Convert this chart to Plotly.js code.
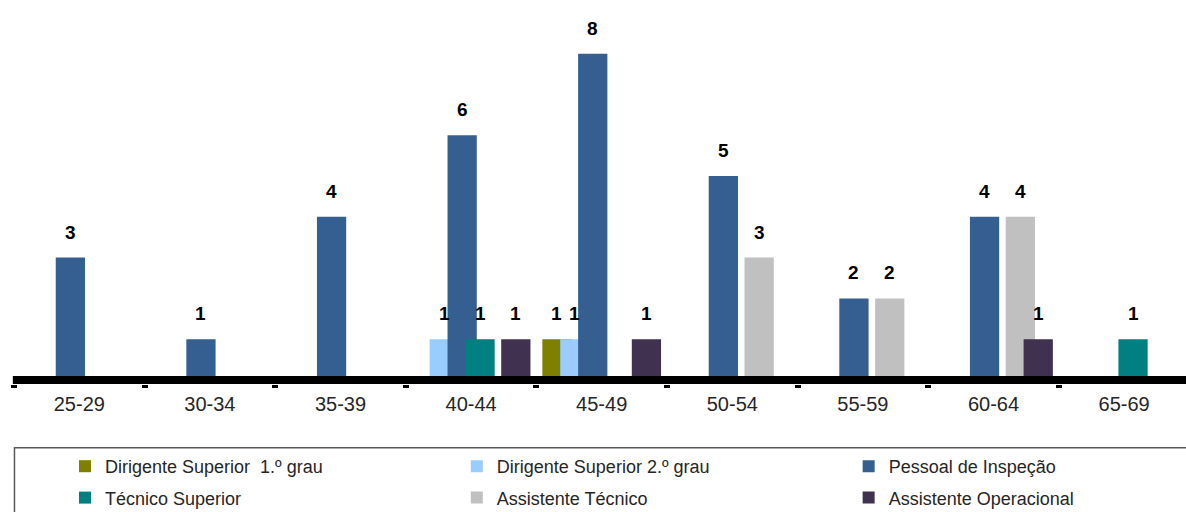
<!DOCTYPE html>
<html>
<head>
<meta charset="utf-8">
<script src="https://cdn.plot.ly/plotly-3.0.1.min.js"></script>
<style>
html,body{margin:0;padding:0;background:#ffffff;}
#chart{width:1186px;height:512px;}
</style>
</head>
<body>
<div id="chart"></div>
<script>
// ---- data ----
const categories = ['25-29', '30-34', '35-39', '40-44', '45-49', '50-54', '55-59', '60-64', '65-69'];
const seriesNames = ['Dirigente Superior\u00a0 1.º grau', 'Dirigente Superior 2.º grau', 'Pessoal de Inspeção',
                     'Técnico Superior', 'Assistente Técnico', 'Assistente Operacional'];
const dirigente1 = [0, 0, 0, 0, 1, 0, 0, 0, 0];
const dirigente2 = [0, 0, 0, 1, 1, 0, 0, 0, 0];
const pessoalInspecao = [3, 1, 4, 6, 8, 5, 2, 4, 0];
const tecnicoSuperior = [0, 0, 0, 1, 0, 0, 0, 0, 1];
const assistenteTecnico = [0, 0, 0, 0, 0, 3, 2, 4, 0];
const assistenteOperacional = [0, 0, 0, 1, 1, 0, 0, 1, 0];

// ---- styling ----
const seriesValues = [dirigente1, dirigente2, pessoalInspecao, tecnicoSuperior, assistenteTecnico, assistenteOperacional];
const colors = ['#808000', '#99CCFF', '#365F91', '#008080', '#C0C0C0', '#403151'];
const legendIds = ['legend', 'legend2', 'legend3', 'legend', 'legend2', 'legend3'];
const FONT = 'Liberation Sans, Arial, sans-serif';
const slotStep = 0.137;   // distance between series slots (category units)
const barWidth = 0.224;   // bars overlap like the original
const slotCenter = k => (k - 2.5) * slotStep;

const traces = seriesValues.map((vals, k) => ({
  type: 'bar',
  name: seriesNames[k],
  x: categories,
  y: vals,
  width: barWidth,
  offset: slotCenter(k) - barWidth / 2,
  marker: {color: colors[k], line: {width: 0}},
  legend: legendIds[k],
  legendgroup: 'g' + k,
  hoverinfo: 'skip'
}));

const annotations = [];
seriesValues.forEach((vals, k) => {
  vals.forEach((v, i) => {
    if (v > 0) {
      annotations.push({
        x: i + slotCenter(k), y: v, xref: 'x', yref: 'y',
        text: String(v), showarrow: false, yanchor: 'bottom', yshift: 13,
        font: {family: FONT, size: 19, color: '#000000', weight: 700}
      });
    }
  });
});

const legendBase = {
  orientation: 'v', xanchor: 'left', yanchor: 'top', y: -0.1725,
  bgcolor: 'rgba(0,0,0,0)', borderwidth: 0, traceorder: 'grouped', tracegroupgap: 5,
  font: {family: FONT, size: 18, color: '#262626'}
};

const layout = {
  width: 1186, height: 512,
  margin: {l: 13.5, r: 0, t: 13, b: 128, autoexpand: false},
  paper_bgcolor: '#ffffff', plot_bgcolor: '#ffffff',
  barmode: 'overlay',
  showlegend: true,
  xaxis: {
    type: 'category', range: [-0.5, 8.474], tickson: 'boundaries',
    ticks: 'outside', ticklen: 3, tickwidth: 6, tickcolor: '#000000',
    showgrid: false, zeroline: false, showline: false,
    tickfont: {family: FONT, size: 20, color: '#262626'},
    ticklabelstandoff: 6, fixedrange: true
  },
  yaxis: {range: [-0.1, 9], visible: false, fixedrange: true},
  legend: Object.assign({}, legendBase, {x: (64.5 - 13.5) / 1172.5}),
  legend2: Object.assign({}, legendBase, {x: (456.5 - 13.5) / 1172.5}),
  legend3: Object.assign({}, legendBase, {x: (848.5 - 13.5) / 1172.5}),
  annotations: annotations,
  shapes: [
    {type: 'line', xref: 'paper', yref: 'y', x0: -0.001, x1: 1, y0: 0, y1: 0,
     line: {color: '#000000', width: 8}, layer: 'above'},
    {type: 'rect', xref: 'paper', yref: 'paper', x0: 0.0004, x1: 1.02, y0: -0.1717, y1: -0.45,
     line: {color: '#595959', width: 1.5}, fillcolor: 'rgba(0,0,0,0)', layer: 'below'}
  ]
};

Plotly.newPlot('chart', traces, layout, {displayModeBar: false, staticPlot: true});
</script>
</body>
</html>
